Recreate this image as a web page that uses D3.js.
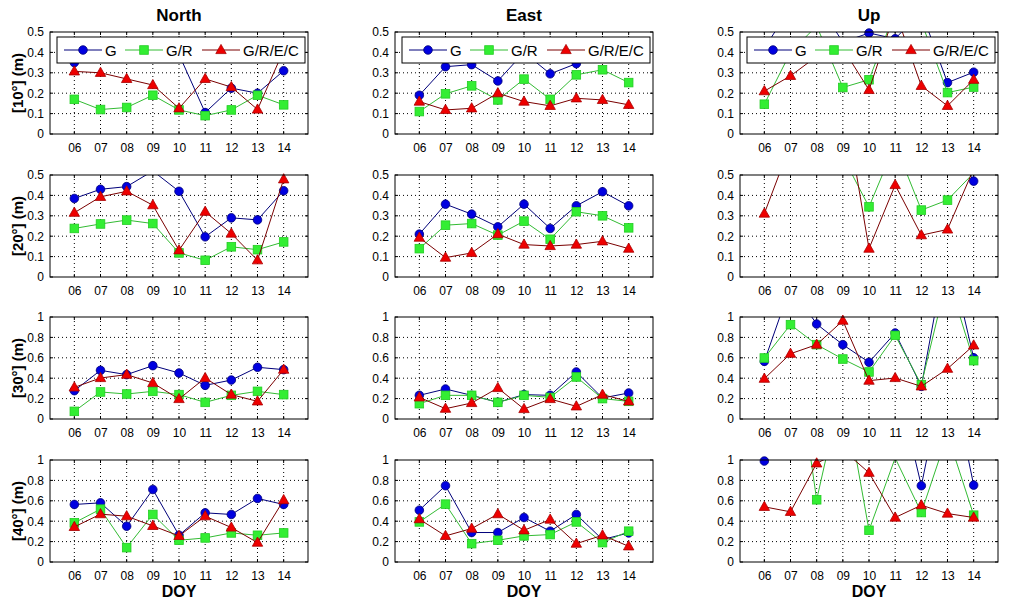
<!DOCTYPE html>
<html><head><meta charset="utf-8">
<script src="https://cdn.jsdelivr.net/npm/d3@7"></script>
<style>body{margin:0;background:#fff}svg{display:block}text{font-family:"Liberation Sans",Arial,Helvetica,sans-serif}</style>
</head><body><svg id="c" width="1023" height="604"></svg>
<script>
// ---- categories / labels ----
const days = ["06","07","08","09","10","11","12","13","14"];
const components = ["North","East","Up"];
const elevations = ["[10°] (m)","[20°] (m)","[30°] (m)","[40°] (m)"];
const seriesNames = ["G","G/R","G/R/E/C"];
const rowMax = [0.5,0.5,1,1];
const ticksHalf = [0,0.1,0.2,0.3,0.4,0.5];
const ticksOne = [0,0.2,0.4,0.6,0.8,1];
const tickLabelsHalf = ["0","0.1","0.2","0.3","0.4","0.5"];
const tickLabelsOne = ["0","0.2","0.4","0.6","0.8","1"];

// ---- series values (m); values above the axis limit are clipped in the plot ----
const north10_G    = [0.35,0.40,0.42,0.41,0.39,0.105,0.225,0.20,0.31];
const north10_GR   = [0.17,0.12,0.13,0.19,0.118,0.09,0.118,0.19,0.143];
const north10_GREC = [0.307,0.30,0.27,0.24,0.126,0.27,0.23,0.12,0.41];
const east10_G     = [0.19,0.33,0.34,0.26,0.40,0.295,0.345,0.40,0.38];
const east10_GR    = [0.11,0.197,0.236,0.167,0.269,0.17,0.29,0.315,0.252];
const east10_GREC  = [0.159,0.118,0.126,0.20,0.159,0.138,0.175,0.167,0.143];
const up10_G       = [0.42,0.62,0.65,0.45,0.495,0.467,0.60,0.252,0.303];
const up10_GR      = [0.146,0.40,0.53,0.228,0.266,0.60,0.55,0.203,0.23];
const up10_GREC    = [0.21,0.285,0.38,0.42,0.216,0.60,0.236,0.138,0.266];

const north20_G    = [0.385,0.43,0.443,0.52,0.42,0.197,0.29,0.28,0.423];
const north20_GR   = [0.238,0.26,0.279,0.262,0.118,0.082,0.148,0.134,0.172];
const north20_GREC = [0.315,0.393,0.42,0.352,0.131,0.32,0.213,0.082,0.479];
const east20_G     = [0.21,0.357,0.308,0.246,0.357,0.238,0.349,0.418,0.349];
const east20_GR    = [0.139,0.254,0.262,0.205,0.274,0.185,0.32,0.30,0.241];
const east20_GREC  = [0.193,0.095,0.118,0.21,0.159,0.152,0.159,0.175,0.139];
const up20_G       = [0.75,0.85,0.90,0.80,0.70,0.75,0.65,0.70,0.47];
const up20_GR      = [0.60,0.70,0.70,0.59,0.344,0.65,0.328,0.377,0.51];
const up20_GREC    = [0.311,0.65,0.80,0.90,0.139,0.451,0.205,0.233,0.53];

const north30_G    = [0.278,0.477,0.435,0.523,0.451,0.33,0.382,0.507,0.484];
const north30_GR   = [0.075,0.265,0.245,0.271,0.239,0.163,0.232,0.271,0.239];
const north30_GREC = [0.31,0.402,0.435,0.353,0.196,0.402,0.239,0.173,0.484];
const east30_G     = [0.232,0.294,0.232,0.163,0.239,0.232,0.461,0.206,0.255];
const east30_GR    = [0.15,0.232,0.232,0.163,0.232,0.212,0.412,0.20,0.173];
const east30_GREC  = [0.212,0.101,0.157,0.304,0.098,0.196,0.124,0.239,0.173];
const up30_G       = [0.565,1.30,0.931,0.729,0.556,0.843,0.32,1.70,0.60];
const up30_GR      = [0.598,0.925,0.729,0.588,0.461,0.82,0.337,1.40,0.572];
const up30_GREC    = [0.395,0.64,0.729,0.964,0.376,0.402,0.32,0.493,0.722];

const north40_G    = [0.564,0.58,0.351,0.711,0.262,0.482,0.466,0.623,0.564];
const north40_GR   = [0.384,0.518,0.141,0.466,0.213,0.236,0.285,0.262,0.285];
const north40_GREC = [0.344,0.469,0.449,0.354,0.256,0.449,0.338,0.19,0.607];
const east40_G     = [0.508,0.748,0.289,0.289,0.436,0.302,0.466,0.22,0.285];
const east40_GR    = [0.393,0.567,0.18,0.213,0.256,0.269,0.393,0.19,0.302];
const east40_GREC  = [0.42,0.256,0.328,0.469,0.311,0.416,0.18,0.262,0.154];
const up40_G       = [0.99,1.5,1.6,1.7,1.8,1.83,0.748,2.0,0.754];
const up40_GR      = [1.8,2.4,0.61,1.75,0.311,1.02,0.485,1.25,0.459];
const up40_GREC    = [0.541,0.492,0.967,1.1,0.875,0.436,0.557,0.475,0.436];

const panels = [
  [[north10_G,north10_GR,north10_GREC],[east10_G,east10_GR,east10_GREC],[up10_G,up10_GR,up10_GREC]],
  [[north20_G,north20_GR,north20_GREC],[east20_G,east20_GR,east20_GREC],[up20_G,up20_GR,up20_GREC]],
  [[north30_G,north30_GR,north30_GREC],[east30_G,east30_GR,east30_GREC],[up30_G,up30_GR,up30_GREC]],
  [[north40_G,north40_GR,north40_GREC],[east40_G,east40_GR,east40_GREC],[up40_G,up40_GR,up40_GREC]]
];

// ---- styles ----
const styles = [
  {line:"#00007a", fill:"#0000e0", stroke:"#00007a", shape:"circle"},
  {line:"#33bb33", fill:"#33ee33", stroke:"#22cc22", shape:"square"},
  {line:"#7a0000", fill:"#ee0000", stroke:"#aa0000", shape:"triangle"}
];
const colLeft = [50,395,740], rowTop = [32,175,317,460];
const pw = 258, ph = 102;

const svg = d3.select("#c");
const defs = svg.append("defs");

function marker(g, shape, x, y, st){
  if(shape==="circle") g.append("circle").attr("cx",x).attr("cy",y).attr("r",4.3)
      .attr("fill",st.fill).attr("stroke",st.stroke).attr("stroke-width",0.8);
  else if(shape==="square") g.append("rect").attr("x",x-4.3).attr("y",y-4.3).attr("width",8.6).attr("height",8.6)
      .attr("fill",st.fill).attr("stroke",st.stroke).attr("stroke-width",0.8);
  else g.append("path").attr("d",`M${x},${y-5.6}L${x+5.2},${y+3.6}L${x-5.2},${y+3.6}Z`)
      .attr("fill",st.fill).attr("stroke",st.stroke).attr("stroke-width",0.8);
}

panels.forEach((row, r) => {
  row.forEach((series, c) => {
    const left = colLeft[c], top = rowTop[r];
    const x = d3.scaleLinear().domain([5.07,14.93]).range([left,left+pw]);
    const y = d3.scaleLinear().domain([0,rowMax[r]]).range([top+ph,top]);
    const ticks = rowMax[r] === 0.5 ? ticksHalf : ticksOne;
    const tlabels = rowMax[r] === 0.5 ? tickLabelsHalf : tickLabelsOne;
    const g = svg.append("g");
    const cid = `clip${r}${c}`;
    defs.append("clipPath").attr("id",cid).append("rect").attr("x",left).attr("y",top).attr("width",pw).attr("height",ph);

    // grid
    const grid = g.append("g").attr("stroke","#000").attr("stroke-width",1).attr("stroke-dasharray","1,3");
    days.forEach((d,i) => grid.append("line").attr("x1",x(i+6)).attr("x2",x(i+6)).attr("y1",top).attr("y2",top+ph));
    ticks.slice(1,-1).forEach(t => grid.append("line").attr("x1",left).attr("x2",left+pw).attr("y1",y(t)).attr("y2",y(t)));

    // axes
    const xAxis = d3.axisBottom(x).tickValues(days.map((d,i)=>i+6)).tickFormat((d,i)=>days[i]).tickSize(0).tickPadding(9);
    const xa = g.append("g").attr("transform",`translate(0,${top+ph})`).call(xAxis);
    xa.select(".domain").remove();
    xa.selectAll("text").attr("font-size",12).attr("fill","#000");
    const yAxis = d3.axisLeft(y).tickValues(ticks).tickFormat((d,i)=>tlabels[i]).tickSize(0).tickPadding(6);
    const ya = g.append("g").attr("transform",`translate(${left},0)`).call(yAxis);
    ya.select(".domain").remove();
    ya.selectAll("text").attr("font-size",12).attr("fill","#000");

    // inward ticks
    const tk = g.append("g").attr("stroke","#000").attr("stroke-width",1);
    days.forEach((d,i)=>{ const xx=x(i+6);
      tk.append("line").attr("x1",xx).attr("x2",xx).attr("y1",top+ph).attr("y2",top+ph-3);
      tk.append("line").attr("x1",xx).attr("x2",xx).attr("y1",top).attr("y2",top+3);});
    ticks.forEach(t=>{ const yy=y(t);
      tk.append("line").attr("x1",left).attr("x2",left+3).attr("y1",yy).attr("y2",yy);
      tk.append("line").attr("x1",left+pw).attr("x2",left+pw-3).attr("y1",yy).attr("y2",yy);});

    // series
    series.forEach((vals, s) => {
      const st = styles[s];
      const line = d3.line().x((v,i)=>x(i+6)).y(v=>y(v));
      g.append("path").attr("d",line(vals)).attr("fill","none").attr("stroke",st.line)
        .attr("stroke-width",1).attr("clip-path",`url(#${cid})`);
      const mg = g.append("g");
      vals.forEach((v,i)=>{ if(v>=0 && v<=rowMax[r]) marker(mg, st.shape, x(i+6), y(v), st); });
    });

    // frame
    g.append("rect").attr("x",left).attr("y",top).attr("width",pw).attr("height",ph)
      .attr("fill","none").attr("stroke","#000").attr("stroke-width",1);

    // legend (first row)
    if(r===0){
      const lx = left+7, ly = top+5;
      const lg = g.append("g");
      lg.append("rect").attr("x",lx).attr("y",ly).attr("width",248).attr("height",26)
        .attr("fill","#fff").attr("stroke","#000").attr("stroke-width",1);
      const offs = [7,68,145];
      seriesNames.forEach((nm,s)=>{
        const st = styles[s], ox = lx+offs[s], cy = ly+13;
        lg.append("line").attr("x1",ox).attr("x2",ox+38).attr("y1",cy).attr("y2",cy).attr("stroke",st.line).attr("stroke-width",1);
        marker(lg, st.shape, ox+19, cy, st);
        lg.append("text").attr("x",ox+41).attr("y",cy+6).attr("font-size",15).text(nm);
      });
      svg.append("text").attr("x",left+pw/2).attr("y",21).attr("text-anchor","middle")
        .attr("font-size",17).attr("font-weight","bold").text(components[c]);
    }
    if(c===0){
      svg.append("text").attr("transform",`translate(23,${top+ph/2}) rotate(-90)`).attr("text-anchor","middle")
        .attr("font-size",15).attr("font-weight","bold").text(elevations[r]);
    }
    if(r===3){
      svg.append("text").attr("x",left+pw/2).attr("y",597).attr("text-anchor","middle")
        .attr("font-size",16).attr("font-weight","bold").text("DOY");
    }
  });
});
</script></body></html>
